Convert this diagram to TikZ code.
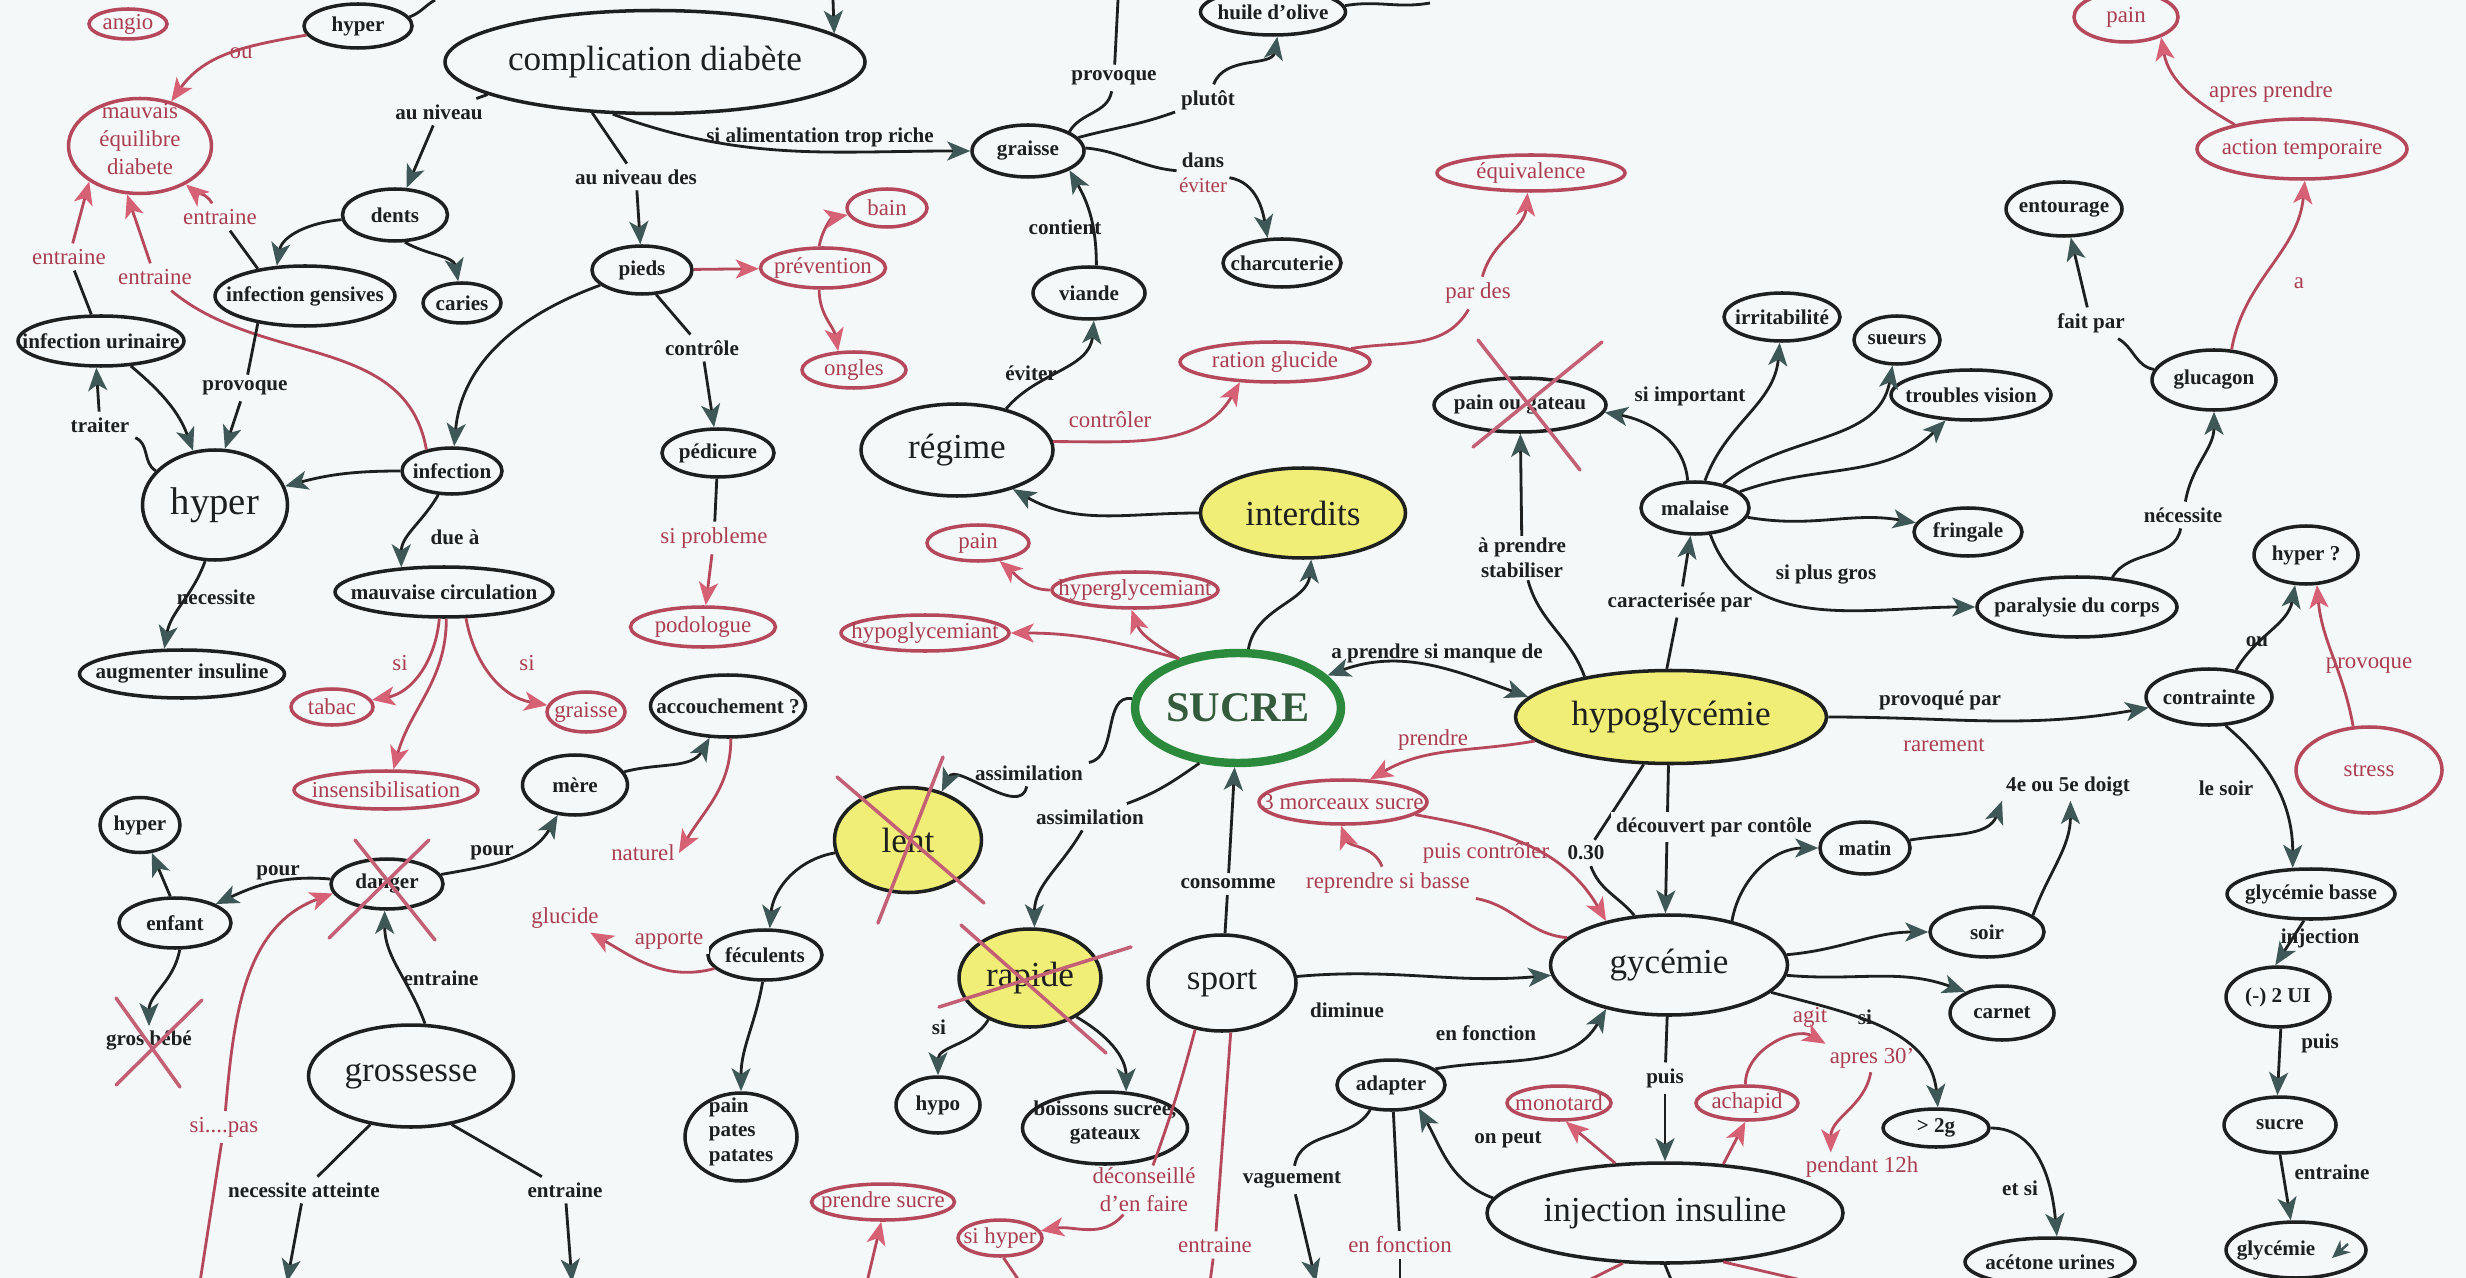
\documentclass[tikz,border=0pt]{standalone}
\usepackage{fontspec}
\setmainfont{Liberation Serif}
\usetikzlibrary{shapes.geometric, arrows.meta}

\definecolor{paper}{RGB}{244,248,248}
\definecolor{ink}{RGB}{30,32,32}
\definecolor{tipgray}{RGB}{62,88,88}
\definecolor{redline}{RGB}{182,72,92}
\definecolor{redtext}{RGB}{170,62,80}
\definecolor{redtip}{RGB}{214,96,116}
\definecolor{crossred}{RGB}{196,96,118}
\definecolor{lemon}{RGB}{240,238,118}
\definecolor{leaf}{RGB}{44,138,60}
\definecolor{sugartext}{RGB}{52,92,60}

\begin{document}
\begin{tikzpicture}[x=0.1mm, y=0.1mm]
    \tikzset{
      my concept/.style 2 args={
        ellipse, draw=ink, line width=1pt, inner sep=0pt, text=ink,
        minimum width=#1*0.1mm, minimum height=#2*0.1mm,
        font=\fontsize{6}{7}\selectfont\bfseries,
        execute at begin node={\hbox to 0pt\bgroup\hss},
        execute at end node={\hss\egroup}
      },
      my big concept/.style 2 args={
        my concept={#1}{#2}, font=\fontsize{10}{12}\selectfont
      },
      my red concept/.style 2 args={
        my concept={#1}{#2}, draw=redline, text=redtext,
        font=\fontsize{6.5}{8}\selectfont
      },
      my word/.style={inner sep=1pt, text=ink, font=\fontsize{6}{7}\selectfont\bfseries},
      my red word/.style={inner sep=1pt, text=redtext, font=\fontsize{6.5}{8}\selectfont},
      my label/.style={inner sep=1.5pt, fill=paper, align=center, text=ink,
        font=\fontsize{6}{7}\selectfont\bfseries},
      my red label/.style={my label, text=redtext, font=\fontsize{6.5}{8}\selectfont},
      my line/.style={draw=ink, line width=0.8pt},
      my red line/.style={draw=redline, line width=0.8pt},
      my link/.style={my line,
        -{Stealth[length=2.3mm, width=1.9mm, inset=0.6mm, color=tipgray]}},
      my red link/.style={my red line,
        -{Stealth[length=2.3mm, width=1.9mm, inset=0.6mm, color=redtip]}},
      my both link/.style={my line,
        {Stealth[length=2.3mm, width=1.9mm, inset=0.6mm, color=tipgray]}-{Stealth[length=2.3mm, width=1.9mm, inset=0.6mm, color=tipgray]}},
      my cross/.style={draw=crossred, line width=1pt, line cap=round},
    }
    \useasboundingbox (0,0) rectangle (2466,-1278);
    \fill[paper] (0,0) rectangle (2466,-1278);

    % Concepts
    \node (angio) [my red concept={78}{30}] at (128,-24) {angio};
    \node (hyperA) [my concept={108}{44}] at (358,-26) {hyper};
    \node (complication) [my big concept={420}{103}] at (655,-62) {complication diabète};
    \node (mauvais) [my red concept={143}{95}] at (140,-146)
      {\smash{\begin{tabular}{@{}c@{}}mauvais\\équilibre\\diabete\end{tabular}}};
    \node (dents) [my concept={105}{52}] at (395,-215) {dents};
    \node (gensives) [my concept={180}{60}] at (305,-296) {infection gensives};
    \node (caries) [my concept={78}{40}] at (462,-303) {caries};
    \node (urinaire) [my concept={166}{50}] at (101,-341) {infection urinaire};
    \node (pieds) [my concept={100}{48}] at (642,-270) {pieds};
    \node (prevention) [my red concept={125}{40}] at (823,-268) {prévention};
    \node (bain) [my red concept={80}{38}] at (887,-208) {bain};
    \node (ongles) [my red concept={104}{36}] at (854,-370) {ongles};
    \node (graisse) [my concept={112}{52}] at (1028,-151) {graisse};
    \node (huile) [my concept={145}{46}] at (1273,-12) {huile d'olive};
    \node (charcuterie) [my concept={118}{48}] at (1282,-263) {charcuterie};
    \node (viande) [my concept={112}{52}] at (1089,-293) {viande};
    \node (equivalence) [my red concept={188}{36}] at (1531,-173) {équivalence};
    \node (ration) [my red concept={190}{40}] at (1275,-362) {ration glucide};
    \node (regime) [my big concept={192}{92}] at (957,-450) {régime};
    \node (paingateau) [my concept={172}{54}] at (1520,-405) {pain ou gateau};
    \node (irritabilite) [my concept={116}{48}] at (1782,-317) {irritabilité};
    \node (sueurs) [my concept={86}{48}] at (1897,-340) {sueurs};
    \node (troubles) [my concept={160}{50}] at (1971,-395) {troubles vision};
    \node (malaise) [my concept={108}{52}] at (1695,-508) {malaise};
    \node (fringale) [my concept={108}{48}] at (1968,-532) {fringale};
    \node (entourage) [my concept={116}{54}] at (2064,-209) {entourage};
    \node (glucagon) [my concept={124}{60}] at (2214,-380) {glucagon};
    \node (action) [my red concept={210}{60}] at (2302,-149) {action temporaire};
    \node (painTop) [my red concept={104}{50}] at (2126,-17) {pain};
    \node (hyperB) [my big concept={145}{110}, font=\fontsize{11}{13}\selectfont] at (215,-505) {hyper};
    \node (infection) [my concept={100}{46}] at (452,-471) {infection};
    \node (circulation) [my concept={218}{50}] at (444,-592) {mauvaise circulation};
    \node (augmenter) [my concept={205}{48}] at (182,-674) {augmenter insuline};
    \node (pedicure) [my concept={112}{48}] at (718,-453) {pédicure};
    \node (podologue) [my red concept={145}{40}] at (703,-627) {podologue};
    \node (tabac) [my red concept={82}{36}] at (332,-707) {tabac};
    \node (graisseR) [my red concept={78}{40}] at (586,-712) {graisse};
    \node (insensib) [my red concept={184}{38}] at (386,-790) {insensibilisation};
    \node (accouchement) [my concept={155}{62}] at (728,-706) {accouchement ?};
    \node (mere) [my concept={105}{60}] at (575,-785) {mère};
    \node (hyperC) [my concept={80}{55}] at (140,-825) {hyper};
    \node (enfant) [my concept={112}{50}] at (175,-923) {enfant};
    \node (danger) [my concept={112}{50}] at (387,-884) {danger};
    \node (grossesse) [my big concept={205}{102}] at (411,-1076) {grossesse};
    \node (interdits) [my big concept={205}{90}, fill=lemon] at (1303,-513) {interdits};
    \node (painR) [my red concept={102}{36}] at (978,-543) {pain};
    \node (hyperglyc) [my red concept={166}{36}] at (1135,-590) {hyperglycemiant};
    \node (hypoglyc) [my red concept={168}{36}] at (925,-633) {hypoglycemiant};
    \node (sucre) [my big concept={206}{110}, draw=leaf, line width=2.4pt, text=sugartext,
      font=\fontsize{12}{14}\selectfont\bfseries] at (1238,-708) {SUCRE};
    \node (lent) [my big concept={147}{105}, fill=lemon] at (908,-840) {lent};
    \node (feculents) [my concept={114}{50}] at (765,-955) {féculents};
    \node (rapide) [my big concept={142}{98}, fill=lemon] at (1030,-978) {rapide};
    \node (sport) [my big concept={148}{96}] at (1222,-983) {sport};
    \node (pates) [my concept={112}{88}] at (741,-1137)
      {\smash{\begin{tabular}{@{}l@{}}pain\\pates\\patates\end{tabular}}};
    \node (hypo) [my concept={84}{56}] at (938,-1105) {hypo};
    \node (boissons) [my concept={165}{72}] at (1105,-1128)
      {\smash{\begin{tabular}{@{}c@{}}boissons sucrée,\\gateaux\end{tabular}}};
    \node (prendresucre) [my red concept={143}{36}] at (883,-1202) {prendre sucre};
    \node (sihyper) [my red concept={84}{36}] at (1000,-1238) {si hyper};
    \node (hypoglycemie) [my big concept={311}{93}, fill=lemon] at (1671,-717) {hypoglycémie};
    \node (morceaux) [my red concept={168}{44}] at (1343,-802) {3 morceaux sucre};
    \node (gycemie) [my big concept={237}{100}] at (1669,-965) {gycémie};
    \node (matin) [my concept={90}{52}] at (1865,-848) {matin};
    \node (soir) [my concept={114}{50}] at (1987,-932) {soir};
    \node (carnet) [my concept={104}{54}] at (2002,-1013) {carnet};
    \node (deuxg) [my concept={106}{38}] at (1936,-1128) {> 2g};
    \node (acetone) [my concept={170}{48}] at (2050,-1262) {acétone urines};
    \node (hyperQ) [my concept={104}{58}] at (2306,-555) {hyper ?};
    \node (paralysie) [my concept={200}{60}] at (2077,-607) {paralysie du corps};
    \node (contrainte) [my concept={126}{56}] at (2209,-697) {contrainte};
    \node (stress) [my red concept={146}{86}] at (2369,-770) {stress};
    \node (glycbasse) [my concept={168}{50}] at (2311,-894) {glycémie basse};
    \node (deuxUI) [my concept={104}{60}] at (2278,-997) {(-) 2 UI};
    \node (sucreB) [my concept={112}{56}] at (2280,-1125) {sucre};
    \node (glycemieB) [my concept={140}{56}] at (2296,-1250) {glycémie\kern 4mm};
    \node (adapter) [my concept={108}{50}] at (1391,-1085) {adapter};
    \node (monotard) [my red concept={104}{34}] at (1559,-1103) {monotard};
    \node (achapid) [my red concept={102}{34}] at (1747,-1103) {achapid};
    \node (injection) [my big concept={356}{100}] at (1665,-1213) {injection insuline};

    % Concepts without border
    \node (naturel) [my red word] at (643,-853) {naturel};
    \node (glucide) [my red word] at (565,-918) {glucide};
    \node (grosbebe) [my word] at (149,-1040) {gros bébé};
    \node (doigt) [my word] at (2068,-787) {4e ou 5e doigt};
    \node (apres30) [my red word] at (1872,-1058) {apres 30'};
    \node (pendant12) [my red word] at (1862,-1167) {pendant 12h};

    % Linking phrases
    \node (l-ou) [my red label] at (241,-53) {ou};
    \node (l-auniveau) [my label] at (439,-112) {au niveau};
    \node (l-entraineA) [my red label] at (220,-217) {entraine};
    \node (l-entraineB) [my red label] at (69,-257) {entraine};
    \node (l-entraineC) [my red label] at (155,-277) {entraine};
    \node (l-provoqueA) [my label] at (245,-388) {provoque};
    \node (l-traiter) [my label] at (100,-425) {traiter};
    \node (l-auniveaudes) [my label] at (636,-177) {au niveau des};
    \node (l-alimentation) [my label] at (820,-137) {si alimentation trop riche};
    \node (l-controle) [my label] at (702,-348) {contrôle};
    \node (l-probleme) [my red label] at (714,-538) {si probleme};
    \node (l-due) [my label] at (455,-537) {due à};
    \node (l-necessite) [my label] at (216,-597) {necessite};
    \node (l-siA) [my red label] at (400,-663) {si};
    \node (l-siB) [my red label] at (527,-663) {si};
    \node (l-pourA) [my label] at (492,-853) {pour};
    \node (l-pourB) [my label] at (278,-873) {pour};
    \node (l-entraineD) [my label] at (441,-978) {entraine};
    \node (l-atteinte) [my label] at (304,-1190) {necessite atteinte};
    \node (l-entraineE) [my label] at (565,-1190) {entraine};
    \node (l-sipas) [my red label] at (224,-1127) {si....pas};
    \node (l-apporte) [my red label] at (669,-940) {apporte};
    \node (l-provoqueB) [my label] at (1114,-78) {provoque};
    \node (l-plutot) [my label] at (1208,-100) {plutôt};
    \node (l-dans) [my label, inner sep=0.5pt] at (1203,-173) {dans\\\textcolor{redtext}{\mdseries éviter}};
    \node (l-contient) [my label] at (1065,-227) {contient};
    \node (l-eviter) [my label] at (1031,-373) {éviter};
    \node (l-controler) [my red label] at (1110,-420) {contrôler};
    \node (l-pardes) [my red label] at (1478,-293) {par des};
    \node (l-assimA) [my label] at (1029,-773) {assimilation};
    \node (l-assimB) [my label] at (1090,-817) {assimilation};
    \node (l-siC) [my label] at (939,-1027) {si};
    \node (l-consomme) [my label] at (1228,-884) {consomme};
    \node (l-diminue) [my label] at (1347,-1010) {diminue};
    \node (l-deconseille) [my red label, inner sep=0.5pt] at (1144,-1190) {déconseillé\\d'en faire};
    \node (l-entraineF) [my red label] at (1215,-1245) {entraine};
    \node (l-manque) [my label] at (1437,-653) {a prendre si manque de};
    \node (l-stabiliser) [my label, inner sep=0.5pt] at (1522,-558) {à prendre\\stabiliser};
    \node (l-caracterisee) [my label] at (1680,-602) {caracterisée par};
    \node (l-important) [my label] at (1690,-396) {si important};
    \node (l-plusgros) [my label] at (1826,-575) {si plus gros};
    \node (l-necessiteB) [my label] at (2183,-515) {nécessite};
    \node (l-faitpar) [my label] at (2091,-323) {fait par};
    \node (l-a) [my red label] at (2299,-283) {a};
    \node (l-apres) [my red label] at (2271,-92) {apres prendre};
    \node (l-provoquepar) [my label] at (1940,-700) {provoqué par};
    \node (l-rarement) [my red label] at (1944,-745) {rarement};
    \node (l-ouB) [my label] at (2257,-642) {ou};
    \node (l-provoqueC) [my red label] at (2369,-665) {provoque};
    \node (l-soir) [my label] at (2226,-788) {le soir};
    \node (l-injection) [my label] at (2320,-938) {injection};
    \node (l-puisA) [my label] at (2320,-1043) {puis};
    \node (l-entraineG) [my label] at (2332,-1172) {entraine};
    \node (l-prendre) [my red label] at (1433,-740) {prendre};
    \node (l-controlerB) [my red label] at (1486,-853) {puis contrôler};
    \node (l-reprendre) [my red label] at (1388,-883) {reprendre si basse};
    \node (l-030) [my label] at (1586,-853) {0.30};
    \node (l-siD) [my label] at (1865,-1017) {si};
    \node (l-etsi) [my label] at (2020,-1188) {et si};
    \node (l-puisB) [my label] at (1665,-1078) {puis};
    \node (l-onpeut) [my label] at (1508,-1140) {on peut};
    \node (l-enfonctionA) [my label] at (1486,-1033) {en fonction};
    \node (l-vaguement) [my label] at (1292,-1180) {vaguement};
    \node (l-enfonctionB) [my red label] at (1400,-1245) {en fonction};
    \node (l-agit) [my red label] at (1810,-1017) {agit};

    % Loose ends at the border
    \coordinate (hyperA-end) at (435,0);
    \coordinate (complication-top) at (833,0);
    \coordinate (graisse-top) at (1118,0);
    \coordinate (huile-end) at (1430,-3);
    \coordinate (bottom-atteinte) at (287,-1282);
    \coordinate (bottom-grossesse) at (572,-1282);
    \coordinate (bottom-sipas) at (200,-1282);
    \coordinate (bottom-prendre) at (867,-1282);
    \coordinate (bottom-sihyper) at (1020,-1282);
    \coordinate (bottom-sport) at (1210,-1282);
    \coordinate (bottom-vaguement) at (1316,-1282);
    \coordinate (bottom-enfonction) at (1400,-1282);
    \coordinate (bottom-injA) at (1585,-1282);
    \coordinate (bottom-injB) at (1672,-1282);
    \coordinate (bottom-injC) at (1810,-1282);

    % Complications
    \draw[my red link] (hyperA) to[out=190, in=55] (mauvais);
    \draw[my line] (hyperA.10) to[out=20, in=210] (hyperA-end);
    \draw[my link] (complication-top) -- (complication.9);
    \draw[my line] (complication.191) -- (l-auniveau);
    \draw[my link] (l-auniveau) -- (dents);
    \draw[my line] (complication.219) -- (l-auniveaudes);
    \draw[my link] (l-auniveaudes) -- (pieds);
    \draw[my link] (complication.231) to[out=-20, in=180] (graisse);
    \draw[my link] (dents) to[out=185, in=80] (gensives.133);
    \draw[my link] (dents.-70) to[out=-30, in=100] (caries);
    \draw[my line] (gensives.150) -- (l-entraineA);
    \draw[my red link] (l-entraineA) to[out=120, in=-40] (mauvais.-40);
    \draw[my line] (urinaire.110) -- (l-entraineB);
    \draw[my red link] (l-entraineB) -- (mauvais.215);
    \draw[my red line] (infection.140) to[out=100, in=-40] (l-entraineC);
    \draw[my red link] (l-entraineC) -- (mauvais.255);
    \draw[my line] (gensives.210) -- (l-provoqueA);
    \draw[my link] (l-provoqueA) -- (hyperB.80);
    \draw[my line] (hyperB.150) to[out=150, in=-20] (l-traiter);
    \draw[my link] (l-traiter) -- (urinaire.260);
    \draw[my link] (urinaire.-40) to[out=-40, in=110] (hyperB.112);

    % Feet and circulation
    \draw[my red link] (pieds) -- (prevention);
    \draw[my red link] (prevention.100) to[out=80, in=190] (bain);
    \draw[my red link] (prevention.-100) to[out=-90, in=100] (ongles.130);
    \draw[my line] (pieds.-60) -- (l-controle);
    \draw[my link] (l-controle) -- (pedicure);
    \draw[my line] (pedicure) -- (l-probleme);
    \draw[my red link] (l-probleme) -- (podologue);
    \draw[my link] (pieds) to[out=200, in=85] (infection);
    \draw[my link] (infection) to[out=180, in=15] (hyperB);
    \draw[my link] (infection.-120) to[out=-120, in=90] (circulation.150);
    \draw[my link] (hyperB.-100) to[out=-110, in=80] (augmenter.125);
    \draw[my red link] (circulation.-100) to[out=-95, in=10] (tabac);
    \draw[my red link] (circulation.-50) to[out=-80, in=170] (graisseR);
    \draw[my red link] (circulation.-85) to[out=-90, in=75] (insensib.70);

    % Pregnancy
    \draw[my link] (mere) to[out=15, in=-120] (accouchement.-120);
    \draw[my red link] (accouchement.-85) to[out=-90, in=60] (naturel.east);
    \draw[my link] (danger) to[out=10, in=-120] (mere.-120);
    \draw[my link] (danger) to[out=175, in=25] (enfant);
    \draw[my link] (enfant.100) -- (hyperC);
    \draw[my link] (enfant.-80) to[out=-100, in=90] (grosbebe);
    \draw[my link] (grossesse.75) to[out=110, in=-90] (danger.-95);
    \draw[my line] (grossesse.-130) -- (l-atteinte);
    \draw[my link] (l-atteinte) -- (bottom-atteinte);
    \draw[my line] (grossesse.-50) -- (l-entraineE);
    \draw[my link] (l-entraineE) -- (bottom-grossesse);
    \draw[my red line] (bottom-sipas) -- (l-sipas);
    \draw[my red link] (l-sipas) to[out=85, in=200] (danger.190);

    % Diet
    \draw[my link] (viande.75) to[out=90, in=-60] (graisse.-25);
    \draw[my link] (regime.40) to[out=50, in=-95] (viande.-80);
    \draw[my red link] (regime.5) to[out=0, in=-120] (ration.-150);
    \draw[my red line] (ration) to[out=10, in=-120] (l-pardes);
    \draw[my red link] (l-pardes) to[out=75, in=-95] (equivalence.-100);
    \draw[my line] (graisse.25) to[out=60, in=-100] (l-provoqueB);
    \draw[my line] (l-provoqueB) -- (graisse-top);
    \draw[my line] (graisse.15) to[out=15, in=-160] (l-plutot);
    \draw[my link] (l-plutot) to[out=70, in=-100] (huile.-80);
    \draw[my line] (huile.5) to[out=10, in=190] (huile-end);
    \draw[my line] (graisse.3) to[out=-5, in=175] (l-dans);
    \draw[my link] (l-dans) to[out=-10, in=100] (charcuterie.120);
    \draw[my link] (interdits) to[out=180, in=-30] (regime.-35);
    \draw[my link] (sucre.80) to[out=80, in=-95] (interdits.-80);
    \draw[my red link] (sucre.140) to[out=150, in=-70] (hyperglyc.-100);
    \draw[my red link] (sucre.140) to[out=165, in=0] (hypoglyc);
    \draw[my red link] (hyperglyc) to[out=180, in=-40] (painR.-40);

    % Sugar and sport
    \draw[my line] (sucre.175) to[out=170, in=10] (l-assimA);
    \draw[my link] (l-assimA) to[out=-100, in=65] (lent.55);
    \draw[my line] (sucre.235) to[out=215, in=20] (l-assimB);
    \draw[my link] (l-assimB) to[out=-120, in=90] (rapide.85);
    \draw[my link] (lent) to[out=190, in=85] (feculents.80);
    \draw[my link] (feculents.-95) to[out=-100, in=90] (pates);
    \draw[my red link] (feculents.195) to[out=195, in=-30] (glucide);
    \draw[my link] (rapide.225) to[out=-120, in=90] (hypo);
    \draw[my link] (rapide.-40) to[out=-30, in=90] (boissons.60);
    \draw[my line] (sport) -- (l-consomme);
    \draw[my link] (l-consomme) -- (sucre);
    \draw[my link] (sport) to[out=5, in=185] (gycemie);
    \draw[my red line] (sport.-120) to[out=-105, in=70] (l-deconseille);
    \draw[my red link] (l-deconseille) to[out=-130, in=10] (sihyper);
    \draw[my red line] (sport.-80) -- (l-entraineF);
    \draw[my red line] (l-entraineF) -- (bottom-sport);
    \draw[my red line] (sihyper.-80) -- (bottom-sihyper);
    \draw[my red link] (bottom-prendre) -- (prendresucre.-95);

    % Hypoglycaemia
    \draw[my both link] (sucre.20) to[out=20, in=160] (hypoglycemie.172);
    \draw[my line] (hypoglycemie.155) to[out=110, in=-75] (l-stabiliser);
    \draw[my link] (l-stabiliser) -- (paingateau);
    \draw[my line] (hypoglycemie.95) -- (l-caracterisee);
    \draw[my link] (l-caracterisee) -- (malaise);
    \draw[my link] (malaise.105) to[out=95, in=-10] (paingateau.-5);
    \foreach \symptom/\o/\i in {irritabilite/70/-95, sueurs/40/-100, troubles/20/-135, fringale/-10/170}
      \draw[my link] (malaise) to[out=\o, in=\i] (\symptom);
    \draw[my link] (malaise.-60) to[out=-70, in=180] (paralysie);
    \draw[my line] (paralysie.40) to[out=60, in=-100] (l-necessiteB);
    \draw[my link] (l-necessiteB) to[out=80, in=-90] (glucagon);
    \draw[my line] (glucagon) to[out=170, in=-30] (l-faitpar);
    \draw[my link] (l-faitpar) -- (entourage);
    \draw[my red link] (glucagon.60) to[out=80, in=-95] (action.-85);
    \draw[my red link] (action.160) to[out=150, in=-80] (painTop.-30);
    \draw[my link] (hypoglycemie) to[out=0, in=190] (contrainte);
    \draw[my link] (contrainte.45) to[out=60, in=-100] (hyperQ.-110);
    \draw[my red link] (stress.110) to[out=100, in=-85] (hyperQ.-70);
    \draw[my link] (contrainte.-60) to[out=-40, in=90] (glycbasse.125);
    \draw[my link] (glycbasse.-105) -- (deuxUI.95);
    \draw[my link] (deuxUI.-85) -- (sucreB.95);
    \draw[my link] (sucreB.-90) -- (glycemieB.100);
    \draw[tipgray, line width=0.7pt, -{Stealth[length=1.8mm, width=1.6mm]}] (glycemieB) ++(52,6) -- ++(-16,-14);

    % Blood sugar control
    \draw[my red link] (hypoglycemie.190) to[out=190, in=30] (morceaux.40);
    \draw[my red link] (morceaux.-10) to[out=-10, in=120] (gycemie.145);
    \draw[my red line] (gycemie.165) to[out=175, in=-10] (l-reprendre);
    \draw[my red link] (l-reprendre) to[out=110, in=-70] (morceaux.-95);
    \draw[my line] (hypoglycemie.-120) -- (l-030);
    \draw[my line] (l-030) to[out=-70, in=130] (gycemie.125);
    \draw[my link] (hypoglycemie.-93) -- (gycemie.94);
    \node (l-decouvert) [my label] at (1714,-827) {découvert par contôle};
    \draw[my link] (gycemie.35) to[out=80, in=180] (matin);
    \draw[my link] (matin) to[out=10, in=-110] (doigt.south west);
    \draw[my link] (soir.20) to[out=70, in=-90] (doigt.-80);
    \draw[my link] (gycemie.5) to[out=5, in=180] (soir);
    \draw[my link] (gycemie.-5) to[out=-5, in=160] (carnet.150);
    \draw[my link] (gycemie.-15) to[out=-15, in=95] (deuxg.85);
    \draw[my link] (deuxg) to[out=0, in=95] (acetone.75);
    \draw[my line] (gycemie) -- (l-puisB);
    \draw[my link] (l-puisB) -- (injection);
    \draw[my link] (injection.175) to[out=160, in=-60] (adapter.-40);
    \draw[my link] (adapter.20) to[out=10, in=-120] (gycemie.-145);
    \draw[my line] (adapter.-130) to[out=-120, in=80] (l-vaguement);
    \draw[my link] (l-vaguement) -- (bottom-vaguement);
    \draw[my line] (adapter.-85) -- (l-enfonctionB);
    \draw[my line] (l-enfonctionB) -- (bottom-enfonction);
    \draw[my red link] (injection.135) -- (monotard.-70);
    \draw[my red link] (injection.40) -- (achapid.-95);
    \draw[my red link] (achapid.95) to[out=90, in=150] (apres30.north west);
    \draw[my red link] (apres30.-95) to[out=-100, in=90] (pendant12.155);
    \draw[my red line] (injection.-130) -- (bottom-injA);
    \draw[my line] (injection.-90) -- (bottom-injB);
    \draw[my red line] (injection.-40) -- (bottom-injC);

    % Crossed out
    \foreach \n/\ax/\ay/\bx/\by/\cx/\cy/\dx/\dy in {
        paingateau/-42/65/60/-65/82/63/-47/-42,
        lent/-71/63/76/-63/35/83/-30/-83,
        rapide/-91/-29/101/31/-69/53/76/-75,
        danger/-32/44/48/-56/42/44/-58/-54,
        grosbebe/-33/42/31/-47/53/40/-33/-45}
      \draw[my cross] (\n) +(\ax,\ay) -- +(\bx,\by) (\n) +(\cx,\cy) -- +(\dx,\dy);
\end{tikzpicture}
\end{document}
